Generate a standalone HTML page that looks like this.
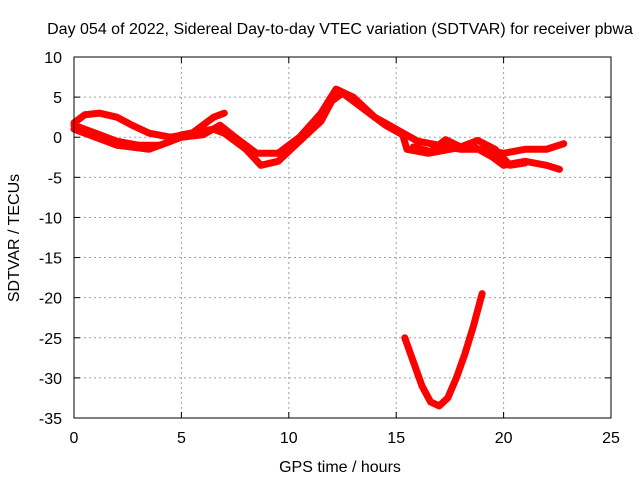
<!DOCTYPE html>
<html><head><meta charset="utf-8"><style>
body{margin:0;background:#fff}
svg{display:block;font-family:"Liberation Sans",sans-serif}
</style></head><body>
<svg id="chart" width="640" height="480">
<text x="340" y="34" font-size="16" text-anchor="middle">Day 054 of 2022, Sidereal Day-to-day VTEC variation (SDTVAR) for receiver pbwa</text>
<text x="340" y="472" font-size="16" text-anchor="middle">GPS time / hours</text>
<text transform="translate(19,238) rotate(-90)" font-size="16" text-anchor="middle">SDTVAR / TECUs</text>
<g id="grid"></g><g id="series"></g>
<rect x="74" y="57" width="537" height="361" fill="none" stroke="#000" stroke-width="1"/>
<g id="ticks"></g>
</svg>
<script>
const xTicks=[0,5,10,15,20,25];
const yTicks=[10,5,0,-5,-10,-15,-20,-25,-30,-35];
const track1=[[0,1.8],[0.5,2.8],[1.2,3],[2,2.5],[2.7,1.5],[3.5,0.5],[4.5,0],[5.5,0.5],[6.5,2.5],[7,3]];
const track2=[[0,1.5],[1,0.5],[2,-0.5],[3,-1],[4,-1],[5,0],[6,0.3],[6.8,1.5],[7.5,0],[8.5,-2],[9.5,-2],[10.5,0],[11.5,3],[12.2,6],[13,5],[14,2.5],[15,1],[16,-0.5],[17,-1],[18,-1.5],[19,-1.5],[20,-2],[21,-1.5],[22,-1.5],[22.8,-0.8]];
const track3=[[0,1],[1,0],[2,-1],[3.5,-1.5],[4.5,-0.5],[5,0.3],[6.5,1],[7,0.5],[8,-1.5],[8.7,-3.5],[9.5,-3],[10.5,-0.5],[11.5,2],[12,4.5],[12.5,5.5],[13.5,3.5],[14.5,1.5],[15.3,0.3],[15.5,-1.5],[16.5,-2],[17.5,-1.5],[18.5,-1],[19.5,-2.5],[20,-3.5],[21,-3],[22,-3.5],[22.6,-4]];
const track4=[[15.8,-1.2],[16.6,-1.8],[17.3,-0.3],[18,-1.2],[18.8,-0.4],[19.6,-1.5],[20.3,-3.5],[21,-3.2]];
const dip=[[15.4,-25],[15.8,-28],[16.2,-31],[16.6,-33],[17,-33.5],[17.4,-32.5],[17.8,-30],[18.2,-27],[18.6,-23.5],[19,-19.5]];
const NS='http://www.w3.org/2000/svg';
const X=h=>74+h*537/25, Y=v=>57+(10-v)*361/45;
const grid=document.getElementById('grid'),ticks=document.getElementById('ticks'),ser=document.getElementById('series');
function mk(tag,at,p){const e=document.createElementNS(NS,tag);for(const k in at)e.setAttribute(k,at[k]);p.appendChild(e);return e;}
xTicks.forEach(t=>{const x=X(t);
 if(t>0&&t<25){const g=mk('line',{x1:x,x2:x,y1:57,y2:418,stroke:'#a0a0a0','stroke-dasharray':'2,3'},grid);
 
 }
 mk('line',{x1:x,x2:x,y1:418,y2:412,stroke:'#000'},ticks);mk('line',{x1:x,x2:x,y1:57,y2:63,stroke:'#000'},ticks);
 const l=mk('text',{x:x,y:443,'font-size':16,'text-anchor':'middle'},ticks);l.textContent=t;
 
 });
yTicks.forEach(t=>{const y=Y(t);
 if(t<10&&t>-35){const g=mk('line',{x1:74,x2:611,y1:y,y2:y,stroke:'#a0a0a0','stroke-dasharray':'2,3'},grid);
 
 }
 mk('line',{x1:74,x2:80,y1:y,y2:y,stroke:'#000'},ticks);mk('line',{x1:611,x2:605,y1:y,y2:y,stroke:'#000'},ticks);
 const l=mk('text',{x:62,y:y+6,'font-size':16,'text-anchor':'end'},ticks);l.textContent=t;
 
 });
[track1,track2,track3,track4,dip].forEach((s,i)=>{
 const p=mk('polyline',{points:s.map(d=>X(d[0])+','+Y(d[1])).join(' '),fill:'none',stroke:'#ff0000','stroke-width':7,'stroke-linejoin':'round','stroke-linecap':'round'},ser);
 
 });
</script>
</body></html>
